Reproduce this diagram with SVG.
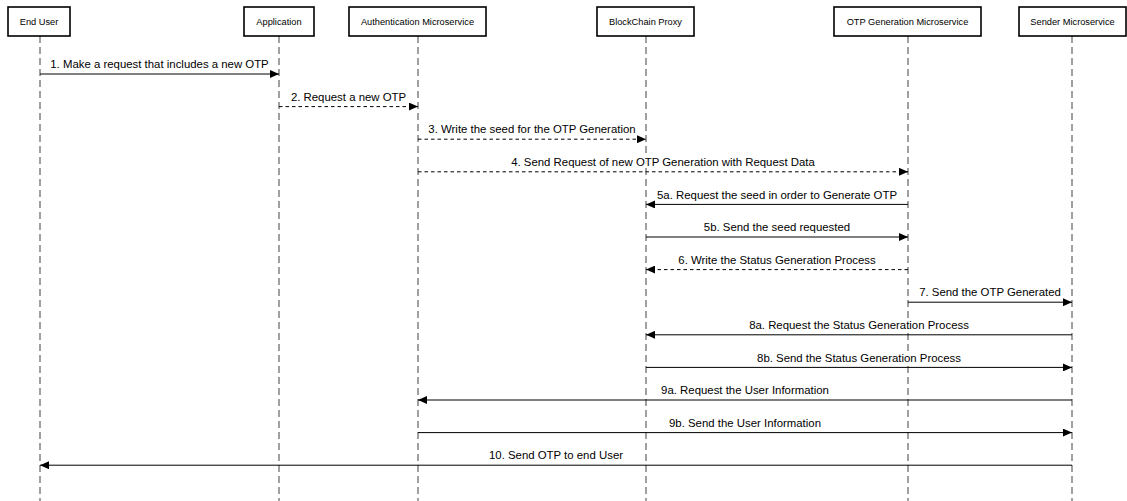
<svg xmlns="http://www.w3.org/2000/svg" width="1127" height="501" viewBox="0 0 1127 501">
  <style>
    .box { fill: #ffffff; stroke: #000000; stroke-width: 1.6; }
    .head { font-family: "Liberation Sans", Arial, Helvetica, sans-serif; font-size: 9.25px; fill: #000000; text-anchor: middle; }
    .life { stroke: #6e6e6e; stroke-width: 1.3; stroke-dasharray: 7 4; fill: none; }
    .msg { stroke: #000000; stroke-width: 1; fill: none; marker-end: url(#head); }
    .ret { stroke-dasharray: 3.5 3; }
    .lbl { font-family: "Liberation Sans", Arial, Helvetica, sans-serif; font-size: 11.4px; fill: #000000; text-anchor: middle; stroke: #ffffff; stroke-width: 3; paint-order: stroke; stroke-linejoin: round; }
  </style>
  <defs>
    <marker id="head" markerUnits="userSpaceOnUse" markerWidth="10" markerHeight="8" refX="9" refY="4" orient="auto">
      <path d="M0,0 L9,4 L0,8 Z" fill="#000000"/>
    </marker>
  </defs>
  <rect width="1127" height="501" fill="#ffffff"/>

  <!-- lifelines -->
  <g id="lifelines">
    <line class="life" x1="40" y1="36" x2="40" y2="501"/>
    <line class="life" x1="279" y1="36" x2="279" y2="501"/>
    <line class="life" x1="418" y1="36" x2="418" y2="501"/>
    <line class="life" x1="646" y1="36" x2="646" y2="501"/>
    <line class="life" x1="908" y1="36" x2="908" y2="501"/>
    <line class="life" x1="1072" y1="36" x2="1072" y2="501"/>
  </g>

  <!-- participants -->
  <g id="end-user">
    <rect class="box" x="8" y="7" width="62" height="29"/>
    <text class="head" x="39" y="25">End User</text>
  </g>
  <g id="application">
    <rect class="box" x="244" y="7" width="70" height="29"/>
    <text class="head" x="279" y="25">Application</text>
  </g>
  <g id="auth-service">
    <rect class="box" x="349" y="7" width="137" height="29"/>
    <text class="head" x="417.5" y="25">Authentication Microservice</text>
  </g>
  <g id="blockchain-proxy">
    <rect class="box" x="597" y="7" width="97" height="29"/>
    <text class="head" x="645.5" y="25">BlockChain Proxy</text>
  </g>
  <g id="otp-service">
    <rect class="box" x="834" y="7" width="147" height="29"/>
    <text class="head" x="907.5" y="25">OTP Generation Microservice</text>
  </g>
  <g id="sender-service">
    <rect class="box" x="1019" y="7" width="107" height="29"/>
    <text class="head" x="1072.5" y="25">Sender Microservice</text>
  </g>

  <!-- messages -->
  <g id="connectors">
    <line class="msg" x1="40" y1="74" x2="279" y2="74"/>
    <text class="lbl" x="159.5" y="68">1. Make a request that includes a new OTP</text>

    <line class="msg ret" x1="279" y1="106.6" x2="418" y2="106.6"/>
    <text class="lbl" x="348.5" y="100.8">2. Request a new OTP</text>

    <line class="msg ret" x1="418" y1="139.2" x2="646" y2="139.2"/>
    <text class="lbl" x="532" y="133.4">3. Write the seed for the OTP Generation</text>

    <line class="msg ret" x1="418" y1="171.8" x2="908" y2="171.8"/>
    <text class="lbl" x="663" y="166">4. Send Request of new OTP Generation with Request Data</text>

    <line class="msg" x1="908" y1="204.4" x2="646" y2="204.4"/>
    <text class="lbl" x="777" y="198.6">5a. Request the seed in order to Generate OTP</text>

    <line class="msg" x1="646" y1="237" x2="908" y2="237"/>
    <text class="lbl" x="777" y="231.2">5b. Send the seed requested</text>

    <line class="msg ret" x1="908" y1="269.6" x2="646" y2="269.6"/>
    <text class="lbl" x="777" y="263.8">6. Write the Status Generation Process</text>

    <line class="msg" x1="908" y1="302.2" x2="1072" y2="302.2"/>
    <text class="lbl" x="990" y="296.4">7. Send the OTP Generated</text>

    <line class="msg" x1="1072" y1="334.8" x2="646" y2="334.8"/>
    <text class="lbl" x="859" y="329">8a. Request the Status Generation Process</text>

    <line class="msg" x1="646" y1="367.4" x2="1072" y2="367.4"/>
    <text class="lbl" x="859" y="361.6">8b. Send the Status Generation Process</text>

    <line class="msg" x1="1072" y1="400" x2="418" y2="400"/>
    <text class="lbl" x="745" y="394.2">9a. Request the User Information</text>

    <line class="msg" x1="418" y1="432.6" x2="1072" y2="432.6"/>
    <text class="lbl" x="745" y="426.8">9b. Send the User Information</text>

    <line class="msg" x1="1072" y1="465.2" x2="40" y2="465.2"/>
    <text class="lbl" x="556" y="459.4">10. Send OTP to end User</text>
  </g>
</svg>
